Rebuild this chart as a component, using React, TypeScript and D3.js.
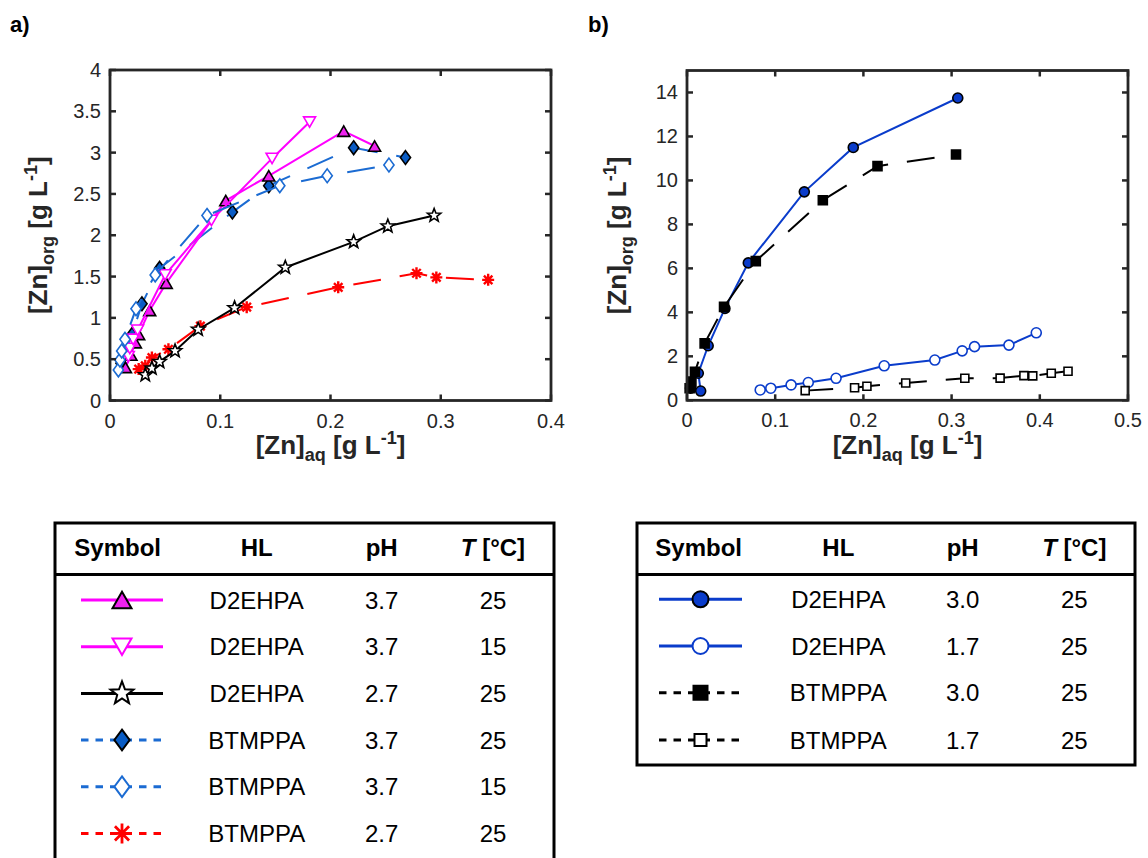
import React from 'react';
import * as d3 from 'd3';

type Pt = [number, number];

// ---------- Panel a data ----------
const aD2EHPA_37_25: Pt[] = [[0.014, 0.40], [0.019, 0.55], [0.023, 0.70], [0.026, 0.80], [0.036, 1.09], [0.051, 1.42], [0.105, 2.42], [0.144, 2.72], [0.212, 3.26], [0.240, 3.08]];
const aD2EHPA_37_15: Pt[] = [[0.0166, 0.53], [0.018, 0.63], [0.021, 0.74], [0.025, 0.85], [0.050, 1.52], [0.092, 2.18], [0.147, 2.93], [0.181, 3.37]];
const aD2EHPA_27_25: Pt[] = [[0.032, 0.31], [0.038, 0.39], [0.045, 0.47], [0.059, 0.60], [0.080, 0.86], [0.113, 1.12], [0.159, 1.61], [0.221, 1.92], [0.252, 2.11], [0.294, 2.24]];
const aBTMPPA_37_25: Pt[] = [[0.010, 0.45], [0.015, 0.62], [0.020, 0.80], [0.029, 1.17], [0.045, 1.60], [0.111, 2.28], [0.144, 2.60], [0.221, 3.06], [0.268, 2.94]];
const aBTMPPA_37_15: Pt[] = [[0.0076, 0.37], [0.009, 0.49], [0.0106, 0.60], [0.0136, 0.74], [0.0236, 1.11], [0.041, 1.52], [0.088, 2.24], [0.154, 2.60], [0.197, 2.72], [0.253, 2.85]];
const aBTMPPA_27_25: Pt[] = [[0.026, 0.38], [0.032, 0.42], [0.038, 0.52], [0.053, 0.62], [0.082, 0.90], [0.124, 1.13], [0.207, 1.37], [0.278, 1.54], [0.296, 1.49], [0.343, 1.46]];

// ---------- Panel b data ----------
const bD2EHPA_30: Pt[] = [[0.004, 0.55], [0.0155, 0.42], [0.0128, 1.23], [0.024, 2.48], [0.043, 4.18], [0.0695, 6.25], [0.133, 9.48], [0.1885, 11.5], [0.307, 13.75]];
const bD2EHPA_17: Pt[] = [[0.083, 0.47], [0.095, 0.55], [0.118, 0.70], [0.1375, 0.81], [0.169, 1.0], [0.2236, 1.57], [0.281, 1.83], [0.312, 2.25], [0.326, 2.44], [0.365, 2.51], [0.396, 3.07]];
const bBTMPPA_30: Pt[] = [[0.003, 0.55], [0.005, 0.85], [0.009, 1.30], [0.020, 2.59], [0.042, 4.25], [0.078, 6.33], [0.154, 9.1], [0.216, 10.65], [0.305, 11.18]];
const bBTMPPA_17: Pt[] = [[0.134, 0.44], [0.190, 0.57], [0.204, 0.64], [0.248, 0.79], [0.315, 1.0], [0.355, 1.01], [0.382, 1.12], [0.392, 1.11], [0.413, 1.23], [0.432, 1.32]];

// ---------- Ticks ----------
const aXTicks = [0, 0.1, 0.2, 0.3, 0.4];
const aYTicks = [0, 0.5, 1, 1.5, 2, 2.5, 3, 3.5, 4];
const bXTicks = [0, 0.1, 0.2, 0.3, 0.4, 0.5];
const bYTicks = [0, 2, 4, 6, 8, 10, 12, 14];

// ---------- Legend table contents ----------
const legendAHL = ['D2EHPA', 'D2EHPA', 'D2EHPA', 'BTMPPA', 'BTMPPA', 'BTMPPA'];
const legendApH = ['3.7', '3.7', '2.7', '3.7', '3.7', '2.7'];
const legendAT = ['25', '15', '25', '25', '15', '25'];
const legendBHL = ['D2EHPA', 'D2EHPA', 'BTMPPA', 'BTMPPA'];
const legendBpH = ['3.0', '1.7', '3.0', '1.7'];
const legendBT = ['25', '25', '25', '25'];

type Kind = 'triUp' | 'triDown' | 'star' | 'diamond' | 'asterisk' | 'circle' | 'square';

interface Style {
  color: string;
  dash: boolean;
  kind: Kind;
  fill: string;
  edge: string;
  size: number;
  lsize: number;
}

const MAG = '#ff00ff';
const BLUEA = '#1b6bd2';
const BLUEB = '#0a3ccb';

const aStyles: Style[] = [
  { color: MAG, dash: false, kind: 'triUp', fill: '#ee22ee', edge: '#000', size: 12, lsize: 19 },
  { color: MAG, dash: false, kind: 'triDown', fill: '#fff', edge: MAG, size: 12, lsize: 19 },
  { color: '#000', dash: false, kind: 'star', fill: '#fff', edge: '#000', size: 7, lsize: 12 },
  { color: BLUEA, dash: true, kind: 'diamond', fill: '#0a5cc4', edge: '#000', size: 6, lsize: 9 },
  { color: BLUEA, dash: true, kind: 'diamond', fill: '#fff', edge: BLUEA, size: 6, lsize: 9 },
  { color: '#ff0000', dash: true, kind: 'asterisk', fill: 'none', edge: '#ff0000', size: 6, lsize: 10 },
];
const aData = [aD2EHPA_37_25, aD2EHPA_37_15, aD2EHPA_27_25, aBTMPPA_37_25, aBTMPPA_37_15, aBTMPPA_27_25];
const aOrder = [3, 5, 2, 0, 1, 4];

const bStyles: Style[] = [
  { color: BLUEB, dash: false, kind: 'circle', fill: BLUEB, edge: '#000', size: 5, lsize: 8 },
  { color: BLUEB, dash: false, kind: 'circle', fill: '#fff', edge: BLUEB, size: 5, lsize: 8 },
  { color: '#000', dash: true, kind: 'square', fill: '#000', edge: '#000', size: 4.5, lsize: 7 },
  { color: '#000', dash: true, kind: 'square', fill: '#fff', edge: '#000', size: 4, lsize: 6 },
];
const bData = [bD2EHPA_30, bD2EHPA_17, bBTMPPA_30, bBTMPPA_17];

function markerPath(kind: Kind, s: number): string {
  switch (kind) {
    case 'triUp': {
      const h = s * 0.866;
      return `M0,${-h / 2}L${s / 2},${h / 2}L${-s / 2},${h / 2}Z`;
    }
    case 'triDown': {
      const h = s * 0.866;
      return `M0,${h / 2}L${s / 2},${-h / 2}L${-s / 2},${-h / 2}Z`;
    }
    case 'diamond': {
      const w = s * 0.85;
      const h = s * 1.15;
      return `M0,${-h}L${w},0L0,${h}L${-w},0Z`;
    }
    case 'star': {
      const pts: string[] = [];
      for (let i = 0; i < 10; i++) {
        const r = i % 2 === 0 ? s : s * 0.42;
        const a = -Math.PI / 2 + (i * Math.PI) / 5;
        pts.push(`${(r * Math.cos(a)).toFixed(2)},${(r * Math.sin(a)).toFixed(2)}`);
      }
      return 'M' + pts.join('L') + 'Z';
    }
    case 'asterisk': {
      const d = s * 0.707;
      return `M0,${-s}L0,${s}M${-s},0L${s},0M${-d},${-d}L${d},${d}M${-d},${d}L${d},${-d}`;
    }
    case 'circle':
      return `M${s},0A${s},${s},0,1,1,${-s},0A${s},${s},0,1,1,${s},0Z`;
    case 'square':
      return `M${-s},${-s}L${s},${-s}L${s},${s}L${-s},${s}Z`;
  }
}

function Marker({ st, x, y, size, sw }: { st: Style; x: number; y: number; size: number; sw: number }) {
  return (
    <path
      d={markerPath(st.kind, size)}
      transform={`translate(${x},${y})`}
      fill={st.kind === 'asterisk' ? 'none' : st.fill}
      stroke={st.edge}
      strokeWidth={st.kind === 'asterisk' ? sw + 0.8 : sw}
      strokeLinejoin="miter"
    />
  );
}

interface Box { left: number; right: number; top: number; bottom: number }

function Axes({ box, xs, ys, xt, yt }: { box: Box; xs: d3.ScaleLinear<number, number>; ys: d3.ScaleLinear<number, number>; xt: number[]; yt: number[] }) {
  const c = '#262626';
  const tl = 6;
  return (
    <g>
      {xt.map((t) => (
        <g key={'x' + t}>
          <line x1={xs(t)} x2={xs(t)} y1={box.bottom} y2={box.bottom - tl} stroke={c} strokeWidth={2.5} />
          <line x1={xs(t)} x2={xs(t)} y1={box.top} y2={box.top + tl} stroke={c} strokeWidth={2.5} />
          <text x={xs(t)} y={box.bottom + 20} textAnchor="middle" dominantBaseline="central" fontSize={20} fill={c}>{String(t)}</text>
        </g>
      ))}
      {yt.map((t) => (
        <g key={'y' + t}>
          <line x1={box.left} x2={box.left + tl} y1={ys(t)} y2={ys(t)} stroke={c} strokeWidth={2.5} />
          <line x1={box.right} x2={box.right - tl} y1={ys(t)} y2={ys(t)} stroke={c} strokeWidth={2.5} />
          <text x={box.left - 9} y={ys(t)} textAnchor="end" dominantBaseline="central" fontSize={20} fill={c}>{String(t)}</text>
        </g>
      ))}
      <rect x={box.left} y={box.top} width={box.right - box.left} height={box.bottom - box.top} fill="none" stroke={c} strokeWidth={2.8} />
    </g>
  );
}

function SeriesG({ data, st, xs, ys }: { data: Pt[]; st: Style; xs: d3.ScaleLinear<number, number>; ys: d3.ScaleLinear<number, number> }) {
  const line = d3.line<Pt>().x((d) => xs(d[0])).y((d) => ys(d[1]));
  return (
    <g>
      <path d={line(data) || ''} fill="none" stroke={st.color} strokeWidth={2} strokeDasharray={st.dash ? '28 19' : undefined} />
      {data.map((d, i) => (
        <Marker key={i} st={st} x={xs(d[0])} y={ys(d[1])} size={st.size} sw={1.6} />
      ))}
    </g>
  );
}

const TF = 26;
const TS = 18;

function TitleContent({ sub }: { sub: string }) {
  return (
    <>
      [Zn]<tspan dy={7} fontSize={TS}>{sub}</tspan>
      <tspan dy={-7}> [g L</tspan>
      <tspan dy={-10} fontSize={TS}>-1</tspan>
      <tspan dy={10}>]</tspan>
    </>
  );
}

function AxisTitleX({ x, y, sub }: { x: number; y: number; sub: string }) {
  return (
    <text x={x} y={y} textAnchor="middle" fontSize={TF} fontWeight="bold" fill="#262626">
      <TitleContent sub={sub} />
    </text>
  );
}

function AxisTitleY({ x, y, sub }: { x: number; y: number; sub: string }) {
  return (
    <text transform={`translate(${x},${y}) rotate(-90)`} textAnchor="middle" fontSize={TF} fontWeight="bold" fill="#262626">
      <TitleContent sub={sub} />
    </text>
  );
}

function LegendTable({ x0, width, height, cols, lineX, rowY, styles, hl, ph, tt }: {
  x0: number; width: number; height: number; cols: number[]; lineX: [number, number]; rowY: number[]; styles: Style[]; hl: string[]; ph: string[]; tt: string[];
}) {
  const headY = 547;
  const mx = (lineX[0] + lineX[1]) / 2;
  return (
    <g>
      <rect x={x0} y={523} width={width} height={height} fill="none" stroke="#000" strokeWidth={3} />
      <line x1={x0} x2={x0 + width} y1={574.5} y2={574.5} stroke="#000" strokeWidth={3} />
      <g fontSize={24} fontWeight="bold" fill="#000" textAnchor="middle" dominantBaseline="central">
        <text x={cols[0]} y={headY}>Symbol</text>
        <text x={cols[1]} y={headY}>HL</text>
        <text x={cols[2]} y={headY}>pH</text>
        <text x={cols[3]} y={headY}><tspan fontStyle="italic">T</tspan> [°C]</text>
      </g>
      {styles.map((st, i) => (
        <g key={i}>
          <line x1={lineX[0]} x2={lineX[1]} y1={rowY[i]} y2={rowY[i]} stroke={st.color} strokeWidth={3} strokeDasharray={st.dash ? '7.5 7' : undefined} />
          <Marker st={st} x={mx} y={rowY[i]} size={st.lsize} sw={2} />
          <g fontSize={24} fill="#000" textAnchor="middle" dominantBaseline="central">
            <text x={cols[1]} y={rowY[i]}>{hl[i]}</text>
            <text x={cols[2]} y={rowY[i]}>{ph[i]}</text>
            <text x={cols[3]} y={rowY[i]}>{tt[i]}</text>
          </g>
        </g>
      ))}
    </g>
  );
}

export default function App() {
  const boxA: Box = { left: 110, right: 551, top: 70, bottom: 400.5 };
  const boxB: Box = { left: 687, right: 1128, top: 70.5, bottom: 400.3 };
  const xA = d3.scaleLinear().domain([0, 0.4]).range([boxA.left, boxA.right]);
  const yA = d3.scaleLinear().domain([0, 4]).range([boxA.bottom, boxA.top]);
  const xB = d3.scaleLinear().domain([0, 0.5]).range([boxB.left, boxB.right]);
  const yB = d3.scaleLinear().domain([0, 15]).range([boxB.bottom, boxB.top]);

  return (
    <svg width={1148} height={858} style={{ position: 'absolute', left: 0, top: 0, background: '#fff' }} fontFamily="'Liberation Sans', Arial, sans-serif">
      <rect x={0} y={0} width={1148} height={858} fill="#fff" />
      <text x={10} y={32} fontSize={22} fontWeight="bold">a)</text>
      <text x={588} y={32} fontSize={22} fontWeight="bold">b)</text>

      {/* Panel a */}
      {aOrder.map((i) => (
        <SeriesG key={i} data={aData[i]} st={aStyles[i]} xs={xA} ys={yA} />
      ))}
      <Axes box={boxA} xs={xA} ys={yA} xt={aXTicks} yt={aYTicks} />
      <AxisTitleX x={(boxA.left + boxA.right) / 2} y={454} sub="aq" />
      <AxisTitleY x={47} y={(boxA.top + boxA.bottom) / 2} sub="org" />

      {/* Panel b */}
      {bData.map((d, i) => (
        <SeriesG key={i} data={d} st={bStyles[i]} xs={xB} ys={yB} />
      ))}
      <Axes box={boxB} xs={xB} ys={yB} xt={bXTicks} yt={bYTicks} />
      <AxisTitleX x={(boxB.left + boxB.right) / 2} y={454} sub="aq" />
      <AxisTitleY x={626} y={(boxB.top + boxB.bottom) / 2} sub="org" />

      {/* Legend tables */}
      <LegendTable x0={55} width={499} height={360} cols={[117.7, 256.7, 381.7, 493]} lineX={[81, 163]} rowY={[600, 646.7, 693.4, 740, 786.7, 833.4]} styles={aStyles} hl={legendAHL} ph={legendApH} tt={legendAT} />
      <LegendTable x0={637} width={498} height={242} cols={[698.7, 838.3, 962.7, 1074.3]} lineX={[659, 742]} rowY={[599.3, 646, 692.7, 740]} styles={bStyles} hl={legendBHL} ph={legendBpH} tt={legendBT} />
    </svg>
  );
}
